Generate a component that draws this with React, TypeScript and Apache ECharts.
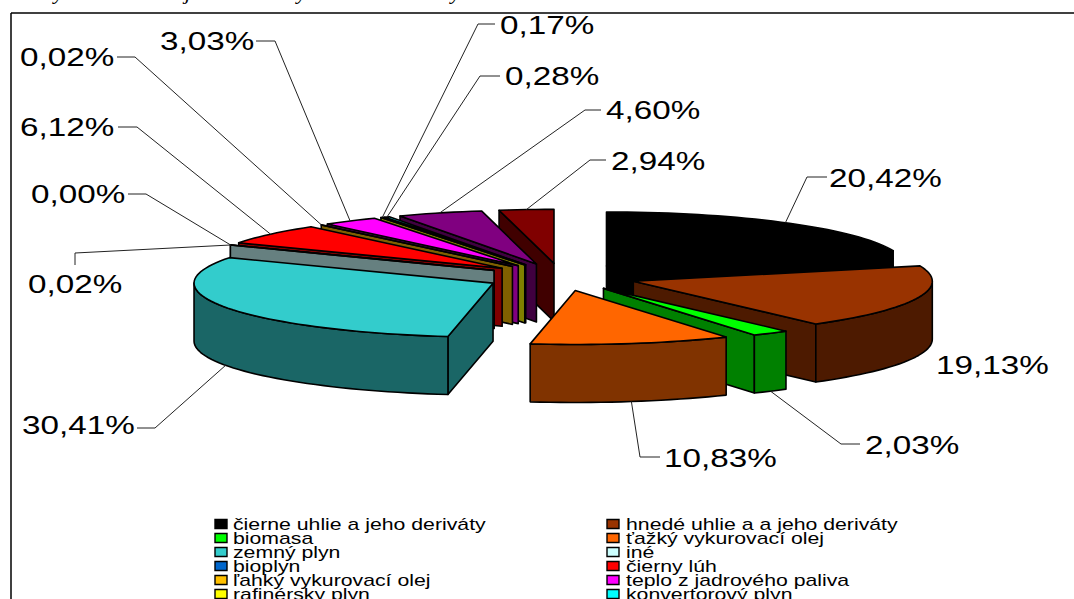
import React, { useEffect, useRef } from "react";
import * as echarts from "echarts";

// Share of each fuel in percent, clockwise from twelve o'clock.
const sliceValues = [20.42, 19.13, 2.03, 10.83, 30.41, 0.02, 0.0, 6.12, 0.02, 3.03, 0.17, 0.28, 4.6, 2.94];
const sliceColors = [
  "#000000", "#993300", "#00FF00", "#FF6600", "#33CCCC", "#CCFFFF", "#0066CC",
  "#FF0000", "#FFC000", "#FF00FF", "#FFFF00", "#00FFFF", "#800080", "#800000",
];
const shadeColors = [
  "#000000", "#4D1A00", "#008000", "#803300", "#1A6666", "#668080", "#003366",
  "#800000", "#806000", "#800080", "#808000", "#008080", "#400040", "#400000",
];
const legendNames = [
  "čierne uhlie a jeho deriváty", "hnedé uhlie a a jeho deriváty",
  "biomasa", "ťažký vykurovací olej",
  "zemný plyn", "iné",
  "bioplyn", "čierny lúh",
  "ľahký vykurovací olej", "teplo z jadrového paliva",
  "rafinérsky plyn", "konvertorový plyn",
];
const legendColors = [
  "#000000", "#993300", "#00FF00", "#FF6600", "#33CCCC", "#CCFFFF",
  "#0066CC", "#FF0000", "#FFC000", "#FF00FF", "#FFFF00", "#00FFFF",
];

// Label placement: text origin, start of the leader, elbow of the leader.
const labelTextX = [829, 936, 865, 664, 22, 28, 31, 20, 20, 160, 500, 505, 606, 611];
const labelTextY = [178, 365, 445, 458, 425, 284, 194, 127, 57, 41, 25, 76, 110, 161];
const leaderStarts: (number[] | null)[] = [
  [827, 177], null, [860, 444], [660, 457], [137, 428], [75, 265], [128, 194],
  [118, 127], [117, 57], [256, 41], [495, 24], [500, 76], [601, 110], [606, 160],
];
const leaderElbows: (number[] | null)[] = [
  [807, 177], null, [841, 444], [640, 457], [155, 428], [75, 253], [146, 194],
  [137, 127], [135, 57], [275, 41], [478, 24], [480, 76], [585, 110], [590, 160],
];

// Projected pie geometry
const CX = 561;
const CY = 277;
const RX = 299;
const RY = 54;
const DEPTH = 58;
const EXPLODE = 76;
const LABEL_STRETCH = 1.33;
const LEGEND_STRETCH = 1.25;
const FONT = "'Liberation Sans', Arial, sans-serif";

const rad = (d: number) => (d * Math.PI) / 180;
const total = sliceValues.reduce((a, b) => a + b, 0);

type Slice = { index: number; a0: number; a1: number; mid: number; ax: number; ay: number };

const slices: Slice[] = [];
let running = 0;
sliceValues.forEach((v, index) => {
  const a0 = (running / total) * 360;
  running += v;
  const a1 = (running / total) * 360;
  const mid = (a0 + a1) / 2;
  slices.push({
    index, a0, a1, mid,
    ax: CX + EXPLODE * Math.sin(rad(mid)),
    ay: CY - (EXPLODE * RY * Math.cos(rad(mid))) / RX,
  });
});

// Painter's order: slices whose apex sits further back are drawn first.
const paintOrder = [...slices].sort((p, q) => p.ay - q.ay);

const rim = (s: Slice, a: number, drop = 0) => [
  s.ax + RX * Math.sin(rad(a)),
  s.ay - RY * Math.cos(rad(a)) + drop,
];

const arcPoints = (s: Slice, from: number, to: number, drop = 0) => {
  const pts: number[][] = [];
  const n = Math.max(1, Math.ceil((to - from) / 2));
  for (let i = 0; i <= n; i++) pts.push(rim(s, from + ((to - from) * i) / n, drop));
  return pts;
};

const edge = { stroke: "#000", lineWidth: 1.6, lineJoin: "round" };

function renderSlice(params: any) {
  const s = paintOrder[params.dataIndex];
  const shade = shadeColors[s.index];
  const children: any[] = [];
  const face = (points: number[][], fill: string) =>
    children.push({ type: "polygon", shape: { points }, style: { fill, ...edge } });

  const wall = (a: number) =>
    face([[s.ax, s.ay], rim(s, a), rim(s, a, DEPTH), [s.ax, s.ay + DEPTH]], shade);

  if (Math.sin(rad(s.a0)) < 0) wall(s.a0);
  if (Math.sin(rad(s.a1)) > 0) wall(s.a1);

  const from = Math.max(s.a0, 90);
  const to = Math.min(s.a1, 270);
  if (to > from) {
    face([...arcPoints(s, from, to), ...arcPoints(s, from, to, DEPTH).reverse()], shade);
  }
  face([[s.ax, s.ay], ...arcPoints(s, s.a0, s.a1)], sliceColors[s.index]);
  return { type: "group", children };
}

function renderLabel(params: any) {
  const s = slices[params.dataIndex];
  const children: any[] = [];
  const start = leaderStarts[s.index];
  const elbow = leaderElbows[s.index];
  if (start && elbow) {
    const front = Math.cos(rad(s.mid)) < 0;
    children.push({
      type: "polyline",
      shape: { points: [start, elbow, rim(s, s.mid, front ? DEPTH : 0)] },
      style: { fill: "none", stroke: "#222", lineWidth: 1 },
    });
  }
  children.push({
    type: "text",
    x: labelTextX[s.index],
    y: labelTextY[s.index],
    scaleX: LABEL_STRETCH,
    style: {
      text: sliceValues[s.index].toFixed(2).replace(".", ",") + "%",
      fontFamily: FONT,
      fontSize: 25,
      fill: "#000",
      align: "left",
      verticalAlign: "middle",
    },
  });
  return { type: "group", children };
}

const legendRows = legendNames.flatMap((name, i) => {
  const column = i % 2;
  const row = Math.floor(i / 2);
  const y = 524 + row * 14;
  return [
    {
      type: "rect",
      shape: { x: column ? 607 : 215, y: y - 4.5, width: 12, height: 9 },
      style: { fill: legendColors[i], stroke: "#000", lineWidth: 1.4 },
    },
    {
      type: "text",
      x: column ? 626 : 233,
      y,
      scaleX: LEGEND_STRETCH,
      style: {
        text: name,
        fontFamily: FONT,
        fontSize: 17,
        fill: "#000",
        align: "left",
        verticalAlign: "middle",
      },
    },
  ];
});

// Descenders of the caption line that runs off the top edge.
const captionGlyphs = [
  { text: "y", x: 54 },
  { text: "j", x: 185 },
  { text: "y", x: 297 },
  { text: "y", x: 451 },
];

const frameAndLegend = [
  { type: "line", shape: { x1: 11, y1: 13, x2: 1074, y2: 13 }, style: { stroke: "#000", lineWidth: 1.5 } },
  { type: "line", shape: { x1: 11, y1: 13, x2: 11, y2: 599 }, style: { stroke: "#000", lineWidth: 1.5 } },
  ...captionGlyphs.map((g) => ({
    type: "text",
    x: g.x,
    y: 2,
    style: {
      text: g.text,
      fontFamily: "'Liberation Serif', serif",
      fontStyle: "italic",
      fontSize: 22,
      fill: "#000",
      align: "left",
      verticalAlign: "bottom",
    },
  })),
  ...legendRows,
];

export default function App() {
  const ref = useRef<HTMLDivElement>(null);
  useEffect(() => {
    const chart = echarts.init(ref.current!, undefined, { renderer: "svg" });
    chart.setOption({
      animation: false,
      backgroundColor: "#fff",
      graphic: { elements: frameAndLegend },
      series: [
        {
          type: "custom",
          coordinateSystem: "none",
          renderItem: renderSlice,
          data: paintOrder.map((s) => sliceValues[s.index]),
          silent: true,
          z: 2,
        },
        {
          type: "custom",
          coordinateSystem: "none",
          renderItem: renderLabel,
          data: sliceValues,
          silent: true,
          z: 3,
        },
      ],
    });
    return () => chart.dispose();
  }, []);
  return <div ref={ref} style={{ position: "fixed", left: 0, top: 0, width: 1074, height: 599 }} />;
}
